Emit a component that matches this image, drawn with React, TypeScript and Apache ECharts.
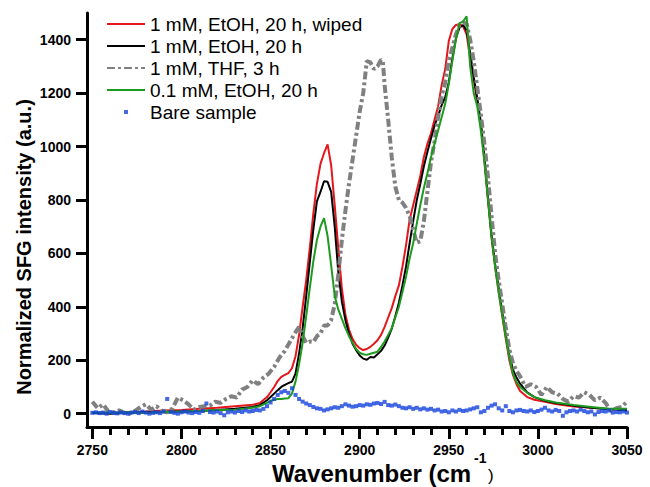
import React, { useEffect, useRef } from "react";
import * as echarts from "echarts";

const FONT = '"Liberation Sans", Arial, Helvetica, sans-serif';

// Series names (legend order)
const seriesNames = [
  "1 mM, EtOH, 20 h, wiped",
  "1 mM, EtOH, 20 h",
  "1 mM, THF, 3 h",
  "0.1 mM, EtOH, 20 h",
  "Bare sample",
];

// Shared wavenumber grid for the three EtOH spectra (cm^-1)
const lineWavenumbers = [
  2750, 2760, 2770, 2780, 2790, 2800, 2810, 2820, 2830, 2840, 2844, 2848,
  2850, 2852, 2854, 2856, 2858, 2860, 2862, 2864, 2866, 2868, 2870, 2872, 2874, 2876, 2878,
  2880, 2882, 2884, 2886, 2888, 2890, 2892, 2894, 2896, 2898, 2900, 2902, 2904, 2906, 2908,
  2910, 2912, 2914, 2916, 2918, 2920, 2922, 2924, 2926, 2928, 2930, 2932, 2934, 2936, 2938,
  2940, 2942, 2944, 2946, 2948, 2950, 2952, 2954, 2956, 2958, 2960, 2962, 2964, 2966, 2968,
  2970, 2972, 2974, 2976, 2978, 2980, 2982, 2984, 2986, 2988, 2990,
  2994, 2998, 3004, 3010, 3020, 3030, 3040, 3050,
];

const wipedEtOH20h = [
  3, 2, 6, 8, 12, 14, 18, 22, 28, 33, 40, 62,
  80, 100, 122, 138, 145, 152, 170, 215, 295, 400, 500, 620, 750, 860, 935,
  975, 1008, 930, 780, 620, 470, 370, 315, 280, 258, 245, 238, 242, 250, 262,
  275, 295, 325, 360, 395, 440, 480, 550, 630, 725, 780, 835, 890, 960, 1010,
  1050, 1100, 1150, 1230, 1290, 1395, 1440, 1455, 1458, 1450, 1420, 1330, 1250, 1170, 1080,
  950, 800, 660, 550, 455, 365, 280, 200, 145, 110, 85,
  62, 52, 44, 36, 27, 22, 17, 14,
];

const etOH20h = [
  2, 0, 3, 5, 6, 8, 10, 14, 18, 25, 32, 50,
  62, 75, 88, 100, 108, 114, 120, 150, 225, 320, 440, 565, 690, 795, 830,
  870, 868, 830, 700, 530, 420, 350, 300, 262, 238, 218, 206, 202, 212, 210,
  222, 235, 255, 285, 318, 365, 415, 480, 550, 637, 720, 798, 860, 925, 980,
  1030, 1078, 1115, 1155, 1185, 1240, 1330, 1405, 1445, 1455, 1435, 1350, 1260, 1180, 1090,
  960, 810, 670, 560, 470, 380, 295, 220, 165, 135, 112,
  80, 62, 48, 40, 30, 22, 16, 12,
];

const dilutedEtOH20h = [
  5, 3, 5, 2, 6, 8, 10, 14, 15, 22, 28, 40,
  48, 52, 55, 55, 57, 58, 75, 120, 185, 265, 365, 470, 570, 650, 700,
  732, 665, 555, 440, 390, 355, 320, 290, 265, 242, 228, 222, 220, 224, 228,
  232, 250, 270, 295, 320, 360, 400, 455, 512, 580, 637, 710, 780, 845, 900,
  960, 1010, 1060, 1110, 1160, 1235, 1320, 1400, 1462, 1468, 1488, 1300, 1200, 1150, 1060,
  940, 800, 660, 550, 455, 370, 285, 210, 150, 118, 100,
  78, 62, 50, 42, 32, 25, 18, 18,
];

// THF spectrum (own sampling)
const thfWavenumbers = [
  2750, 2753, 2756, 2759, 2762, 2765, 2768, 2771, 2774, 2777, 2780, 2783, 2786, 2789, 2792,
  2795, 2798, 2801, 2804, 2807, 2810, 2813, 2816, 2819, 2822, 2825, 2828, 2831, 2834, 2837,
  2840, 2843, 2846, 2849, 2852, 2855, 2858, 2861, 2864, 2866, 2868, 2870, 2872, 2874, 2876,
  2878, 2880, 2882, 2884, 2886, 2888, 2890, 2892, 2894, 2896, 2898, 2900, 2902, 2903, 2904,
  2906, 2908, 2910, 2912, 2913, 2914, 2916, 2918, 2920, 2922, 2924, 2926, 2928, 2930, 2932,
  2934, 2936, 2938, 2940, 2942, 2944, 2946, 2948, 2950, 2952, 2954, 2956, 2958, 2960, 2962,
  2964, 2966, 2968, 2970, 2972, 2974, 2976, 2978, 2980, 2982, 2984, 2986, 2988, 2990, 2993,
  2996, 2999, 3002, 3005, 3008, 3011, 3014, 3017, 3020, 3023, 3026, 3029, 3032, 3035, 3038,
  3041, 3044, 3047, 3050,
];

const thf3h = [
  45, 20, 35, 8, 5, 12, 3, 0, 10, 25, 35, 15, 28, 10, 5,
  20, 60, 50, 35, 15, 25, 28, 30, 45, 40, 55, 65, 60, 90, 100,
  125, 110, 135, 150, 175, 210, 235, 270, 305, 325, 290, 265, 270, 268, 290,
  300, 330, 330, 350, 410, 520, 650, 760, 860, 950, 1040, 1130, 1200, 1260, 1320,
  1315, 1290, 1300, 1325, 1320, 1230, 1100, 960, 850, 800, 790, 770, 740, 690, 640,
  645, 720, 830, 940, 1020, 1110, 1190, 1240, 1320, 1370, 1420, 1455, 1465, 1460, 1400,
  1320, 1220, 1120, 1010, 885, 740, 600, 500, 410, 320, 240, 190, 160, 140, 100,
  110, 100, 70, 100, 80, 75, 55, 45, 65, 60, 80, 70, 50, 60, 40,
  10, 20, 25, 45,
];

// Bare sample (scatter)
const bareWavenumbers = [
  2750, 2752, 2754, 2756, 2758, 2760, 2762, 2764, 2766, 2768, 2770, 2772, 2774, 2776, 2778,
  2780, 2782, 2784, 2786, 2788, 2790, 2792, 2794, 2796, 2798, 2800, 2802, 2804, 2806, 2808,
  2810, 2812, 2814, 2816, 2818, 2820, 2822, 2824, 2826, 2828, 2830, 2832, 2834, 2836, 2838,
  2840, 2842, 2844, 2846, 2848, 2850, 2852, 2854, 2856, 2858, 2860, 2862, 2864, 2866, 2868,
  2870, 2872, 2874, 2876, 2878, 2880, 2882, 2884, 2886, 2888, 2890, 2892, 2894, 2896, 2898,
  2900, 2902, 2904, 2906, 2908, 2910, 2912, 2914, 2916, 2918, 2920, 2922, 2924, 2926, 2928,
  2930, 2932, 2934, 2936, 2938, 2940, 2942, 2944, 2946, 2948, 2950, 2952, 2954, 2956, 2958,
  2960, 2962, 2964, 2966, 2968, 2970, 2972, 2974, 2976, 2978, 2980, 2982, 2984, 2986, 2988,
  2990, 2992, 2994, 2996, 2998, 3000, 3002, 3004, 3006, 3008, 3010, 3012, 3014, 3016, 3018,
  3020, 3022, 3024, 3026, 3028, 3030, 3032, 3034, 3036, 3038, 3040, 3042, 3044, 3046, 3048,
  3050,
];

const bareSample = [
  3, 5, 2, 4, 0, 6, 3, 1, 5, 2, 0, 4, 6, 2, 8,
  4, 0, 3, 5, 2, 8, 55, 6, 3, 0, 5, 8, 4, 2, 6,
  3, 10, 38, 6, 4, 8, 2, -6, 5, 8, 4, 10, 6, 12, 8,
  10, 14, 12, 18, 28, 42, 55, 70, 80, 85, 78, 95, 70, 55, 45,
  38, 32, 25, 20, 18, 12, 16, 20, 24, 22, 28, 35, 30, 26, 28,
  32, 30, 35, 33, 38, 40, 36, 44, 32, 30, 34, 28, 22, 20, 24,
  18, 22, 16, 20, 15, 18, 12, 15, 8, 10, 5, 12, 8, 14, 10,
  12, 16, 20, 24, 5, 10, 22, 30, 35, 20, 12, 28, 10, 5, 12,
  14, 10, 8, 12, 6, 10, 15, 22, 12, 8, 14, 10, -8, 5, 10,
  12, 8, 15, 10, 5, 8, -3, 6, 10, 8, 12, 4, 6, 5, 8,
  4,
];

// Axis tick values
const xMajorTicks = [2750, 2800, 2850, 2900, 2950, 3000, 3050];
const xMinorTicks = [
  2760, 2770, 2780, 2790, 2810, 2820, 2830, 2840, 2860, 2870, 2880, 2890,
  2910, 2920, 2930, 2940, 2960, 2970, 2980, 2990, 3010, 3020, 3030, 3040,
];
const yTicks = [0, 200, 400, 600, 800, 1000, 1200, 1400];

const zip = (xs: number[], ys: number[]) => xs.map((x, i) => [x, ys[i]]);

const COLORS = ["#e5161c", "#000000", "#808080", "#1f9a1f", "#1442dc"];

const LEGEND_FONT = 19;

export default function App() {
  const ref = useRef<HTMLDivElement>(null);

  useEffect(() => {
    if (!ref.current) return;
    const chart = echarts.init(ref.current, null, { renderer: "svg" });
    const xMin = 2747;
    const xMax = 3050;
    const legendText = { fontSize: LEGEND_FONT, fontFamily: FONT, color: "#000", lineHeight: 22 };
    const option: any = {
      animation: false,
      backgroundColor: "#ffffff",
      grid: {
        left: 87,
        right: 23,
        top: 13,
        bottom: 60,
        containLabel: false,
        outerBoundsMode: "none",
      },
      legend: {
        orient: "vertical",
        left: 101,
        top: 8,
        itemWidth: 38,
        itemHeight: 4,
        itemGap: 0,
        selectedMode: false,
        textStyle: legendText,
        data: seriesNames.map((name, i) =>
          i < 4
            ? { name, itemStyle: { opacity: 0 }, textStyle: legendText }
            : {
                name,
                icon: "path://M0,0 M38,4 M17,0 L21,0 L21,4 L17,4 Z",
                textStyle: legendText,
              }
        ),
      },
      xAxis: [
        {
          type: "value",
          min: xMin,
          max: xMax,
          position: "bottom",
          axisLine: { show: true, onZero: false, lineStyle: { color: "#000", width: 3 } },
          axisTick: {
            show: true,
            inside: false,
            length: 12,
            customValues: xMajorTicks,
            lineStyle: { color: "#000", width: 3 },
          },
          axisLabel: {
            customValues: xMajorTicks,
            formatter: (v: number) => String(v),
            margin: 15,
            color: "#000",
            fontSize: 14,
            lineHeight: 15,
            fontWeight: "bold",
            fontFamily: FONT,
          },
          splitLine: { show: false },
        },
        {
          type: "value",
          min: xMin,
          max: xMax,
          position: "bottom",
          axisLine: { show: false, onZero: false },
          axisTick: {
            show: true,
            inside: false,
            length: 8,
            customValues: xMinorTicks,
            lineStyle: { color: "#000", width: 3 },
          },
          axisLabel: { show: false },
          splitLine: { show: false },
        },
      ],
      yAxis: {
        type: "value",
        min: -50,
        max: 1500,
        axisLine: { show: true, onZero: false, lineStyle: { color: "#000", width: 3 } },
        axisTick: {
          show: true,
          inside: false,
          length: 11,
          customValues: yTicks,
          lineStyle: { color: "#000", width: 3 },
        },
        axisLabel: {
          customValues: yTicks,
          formatter: (v: number) => String(v),
          margin: 16,
          color: "#000",
          fontSize: 14,
          fontWeight: "bold",
          fontFamily: FONT,
        },
        splitLine: { show: false },
      },
      graphic: [
        {
          type: "text",
          x: 24,
          y: 247,
          rotation: Math.PI / 2,
          style: {
            text: "Normalized SFG intensity (a.u.)",
            fontSize: 20,
            fontWeight: "bold",
            fontFamily: FONT,
            fill: "#000",
            textAlign: "center",
            textVerticalAlign: "middle",
          },
        },
        {
          type: "text",
          x: 272,
          y: 473,
          style: {
            text: "Wavenumber (cm",
            fontSize: 24,
            lineHeight: 22,
            fontWeight: "bold",
            fontFamily: FONT,
            fill: "#000",
            textAlign: "left",
            textVerticalAlign: "middle",
          },
        },
        {
          type: "text",
          x: 474,
          y: 458,
          style: {
            text: "-1",
            fontSize: 14,
            lineHeight: 14,
            fontWeight: "bold",
            fontFamily: FONT,
            fill: "#000",
            textAlign: "left",
            textVerticalAlign: "middle",
          },
        },
        {
          type: "text",
          x: 488,
          y: 475,
          style: {
            text: ")",
            fontSize: 17,
            lineHeight: 17,
            fontFamily: FONT,
            fill: "#000",
            textAlign: "left",
            textVerticalAlign: "middle",
          },
        },
      ],
      series: [
        {
          name: seriesNames[0],
          type: "line",
          data: zip(lineWavenumbers, wipedEtOH20h),
          symbol: "none",
          lineStyle: { color: COLORS[0], width: 2 },
          itemStyle: { color: COLORS[0] },
          z: 2,
        },
        {
          name: seriesNames[1],
          type: "line",
          data: zip(lineWavenumbers, etOH20h),
          symbol: "none",
          lineStyle: { color: COLORS[1], width: 2 },
          itemStyle: { color: COLORS[1] },
          z: 3,
        },
        {
          name: seriesNames[2],
          type: "line",
          data: zip(thfWavenumbers, thf3h),
          symbol: "none",
          lineStyle: { color: COLORS[2], width: 4, type: [8, 3, 3, 3], cap: "butt" },
          itemStyle: { color: COLORS[2] },
          z: 4,
        },
        {
          name: seriesNames[3],
          type: "line",
          data: zip(lineWavenumbers, dilutedEtOH20h),
          symbol: "none",
          lineStyle: { color: COLORS[3], width: 2 },
          itemStyle: { color: COLORS[3] },
          z: 5,
        },
        {
          name: seriesNames[4],
          type: "scatter",
          data: zip(bareWavenumbers, bareSample),
          symbol: "rect",
          symbolSize: 4,
          itemStyle: { color: COLORS[4] },
          z: 6,
        },
      ],
    };
    chart.setOption(option);
    return () => chart.dispose();
  }, []);

  return (
    <div
      ref={ref}
      style={{ position: "fixed", left: 0, top: 0, width: 650, height: 487, background: "#fff" }}
    />
  );
}
